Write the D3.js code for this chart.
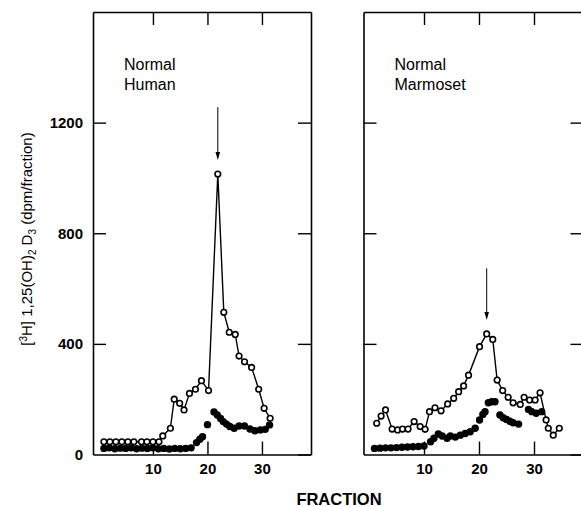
<!DOCTYPE html>
<html>
<head>
<meta charset="utf-8">
<script src="https://cdn.jsdelivr.net/npm/d3@7"></script>
<style>
  html, body { margin: 0; padding: 0; background: #fff; }
  svg { display: block; }
</style>
</head>
<body>
<svg id="chart" width="581" height="507"></svg>
<script>
// ---------------- data ----------------
const fractionTicks = [10, 20, 30];
const valueTicks = [0, 400, 800, 1200];
const valueLabels = ["0", "400", "800", "1200"];

// Normal Human – open circles (connected)
const humanOpenFraction = [1.0, 2.1, 3.2, 4.3, 5.4, 6.5, 7.9, 8.9, 10.0, 11.1, 11.8, 13.2, 13.9, 14.9, 15.7, 16.7, 17.8, 18.9, 20.2, 21.9, 23.0, 24.0, 25.1, 25.8, 26.8, 28.1, 29.4, 30.4, 31.5];
const humanOpenValue    = [46, 46, 46, 46, 46, 46, 46, 46, 46, 46, 67, 95, 200, 185, 161, 221, 236, 267, 231, 1014, 514, 442, 434, 356, 335, 315, 236, 167, 131];
// Normal Human – filled circles
const humanFilledFraction = [1, 2, 3, 4, 5, 6, 7, 8, 9, 10, 11, 12, 13, 14, 15, 16, 17, 18.0, 18.6, 19.1, 20.0, 21.2, 21.8, 22.4, 22.9, 23.5, 24.1, 24.9, 25.8, 26.8, 27.8, 28.7, 29.7, 30.6, 31.4];
const humanFilledValue    = [22, 24, 21, 23, 22, 24, 21, 23, 22, 24, 21, 22, 20, 22, 21, 22, 24, 43, 55, 64, 108, 154, 143, 130, 119, 110, 101, 95, 103, 103, 92, 86, 89, 91, 107];

// Normal Marmoset – open circles (connected)
const marmosetOpenFraction = [1.4, 2.2, 3.0, 4.2, 5.2, 6.1, 7.1, 8.2, 9.3, 10.2, 11.0, 12.0, 13.1, 14.3, 15.4, 16.3, 17.2, 18.1, 20.1, 21.4, 22.5, 23.3, 24.3, 25.3, 26.2, 27.5, 28.2, 29.2, 30.2, 31.1, 32.2, 32.6, 33.5, 34.6];
const marmosetOpenValue    = [113, 139, 161, 92, 89, 92, 92, 119, 101, 91, 155, 169, 158, 183, 203, 227, 248, 287, 390, 436, 416, 269, 231, 207, 187, 181, 207, 197, 197, 223, 125, 95, 70, 95];
// Normal Marmoset – filled circles
const marmosetFilledFraction = [1, 2, 3, 4, 5, 6, 7, 8, 9, 10, 11.2, 11.8, 12.6, 13.3, 14.2, 14.8, 15.7, 16.6, 17.5, 18.4, 19.3, 20.1, 20.7, 21.1, 21.7, 22.3, 22.9, 23.8, 24.4, 25.0, 25.6, 26.2, 27.2, 29.0, 29.6, 30.4, 31.4];
const marmosetFilledValue    = [22, 23, 24, 24, 25, 26, 27, 28, 29, 31, 46, 59, 74, 67, 59, 67, 63, 70, 76, 82, 95, 125, 145, 155, 187, 191, 191, 143, 133, 127, 120, 115, 110, 163, 155, 149, 155];

// arrows marking the peak: [fraction, value at tail, value at tip]
const humanArrow = [21.9, 1256, 1065];
const marmosetArrow = [21.4, 673, 486];

const panelNames = [["Normal", "Human"], ["Normal", "Marmoset"]];

// ---------------- layout ----------------
const svg = d3.select("#chart");
const FONT = "'Liberation Sans', Arial, Helvetica, sans-serif";
const yTop = 12, yBottom = 454.5;
const xDomain = [-1, 39];
const yDomain = [0, 1600];
const TICK = 13;

const panels = [
  { x0: 93, x1: 311, open: [humanOpenFraction, humanOpenValue], filled: [humanFilledFraction, humanFilledValue], arrow: humanArrow, name: panelNames[0], labels: true },
  { x0: 363.5, x1: 583.5, open: [marmosetOpenFraction, marmosetOpenValue], filled: [marmosetFilledFraction, marmosetFilledValue], arrow: marmosetArrow, name: panelNames[1], labels: false }
];

const y = d3.scaleLinear().domain(yDomain).range([yBottom, yTop]);

panels.forEach(p => {
  const x = d3.scaleLinear().domain(xDomain).range([p.x0, p.x1]);
  const g = svg.append("g");

  // axes (inward ticks)
  const bottom = g.append("g").attr("transform", `translate(0,${yBottom})`)
    .call(d3.axisBottom(x).tickValues(fractionTicks).tickSizeInner(-TICK).tickSizeOuter(0).tickPadding(9));
  const top = g.append("g").attr("transform", `translate(0,${yTop})`)
    .call(d3.axisTop(x).tickValues(fractionTicks).tickSizeInner(-TICK).tickSizeOuter(0).tickFormat(""));
  const left = g.append("g").attr("transform", `translate(${p.x0},0)`)
    .call(d3.axisLeft(y).tickValues(valueTicks).tickSizeInner(-TICK).tickSizeOuter(0).tickPadding(10)
      .tickFormat((d, i) => p.labels ? valueLabels[i] : ""));
  const right = g.append("g").attr("transform", `translate(${p.x1},0)`)
    .call(d3.axisRight(y).tickValues(valueTicks).tickSizeInner(-TICK).tickSizeOuter(0).tickFormat(""));

  [bottom, top, left, right].forEach(a => {
    a.attr("font-family", FONT).attr("font-size", 15);
    a.select(".domain").attr("stroke", "#000").attr("stroke-width", 1.6);
    a.selectAll(".tick line").attr("stroke", "#000").attr("stroke-width", 1.4);
    a.selectAll(".tick text").attr("fill", "#000").attr("font-weight", "bold");
  });
  left.selectAll(".tick line").filter(d => d === 0).remove();

  // filled circles
  const fx = p.filled[0], fv = p.filled[1];
  g.append("g").selectAll("circle").data(d3.range(fx.length)).join("circle")
    .attr("cx", i => x(fx[i])).attr("cy", i => y(fv[i])).attr("r", 3.7)
    .attr("fill", "#000");

  // open series line + circles
  const ox = p.open[0], ov = p.open[1];
  const line = d3.line().x(i => x(ox[i])).y(i => y(ov[i]));
  g.append("path").datum(d3.range(ox.length)).attr("d", line)
    .attr("fill", "none").attr("stroke", "#000").attr("stroke-width", 1.4);
  g.append("g").selectAll("circle").data(d3.range(ox.length)).join("circle")
    .attr("cx", i => x(ox[i])).attr("cy", i => y(ov[i])).attr("r", 2.8)
    .attr("fill", "#fff").attr("stroke", "#000").attr("stroke-width", 1.6);

  // arrow
  const ax = x(p.arrow[0]), ay0 = y(p.arrow[1]), ay1 = y(p.arrow[2]);
  g.append("line").attr("x1", ax).attr("x2", ax).attr("y1", ay0).attr("y2", ay1 - 6)
    .attr("stroke", "#000").attr("stroke-width", 1);
  g.append("path").attr("d", `M${ax - 2.3},${ay1 - 8} L${ax + 2.3},${ay1 - 8} L${ax},${ay1} Z`).attr("fill", "#000");

  // panel name
  const t = g.append("text").attr("font-family", FONT).attr("font-size", 16).attr("fill", "#000");
  p.name.forEach((s, i) => {
    t.append("tspan").attr("x", p.x0 + 31).attr("y", 70 + i * 20).text(s);
  });
});

// x-axis title
svg.append("text").attr("x", 339).attr("y", 505).attr("text-anchor", "middle")
  .attr("font-family", FONT).attr("font-size", 16.5).attr("font-weight", "bold").text("FRACTION");

// y-axis title
const yt = svg.append("text").attr("transform", "translate(32,239) rotate(-90)")
  .attr("text-anchor", "middle").attr("font-family", FONT).attr("font-size", 15).attr("fill", "#000");
yt.append("tspan").text("[");
yt.append("tspan").attr("font-size", 10).attr("dy", -5).text("3");
yt.append("tspan").attr("dy", 5).text("H] 1,25(OH)");
yt.append("tspan").attr("font-size", 10).attr("dy", 4).text("2");
yt.append("tspan").attr("dy", -4).text(" D");
yt.append("tspan").attr("font-size", 10).attr("dy", 4).text("3");
yt.append("tspan").attr("dy", -4).text(" (dpm/fraction)");
</script>
</body>
</html>
